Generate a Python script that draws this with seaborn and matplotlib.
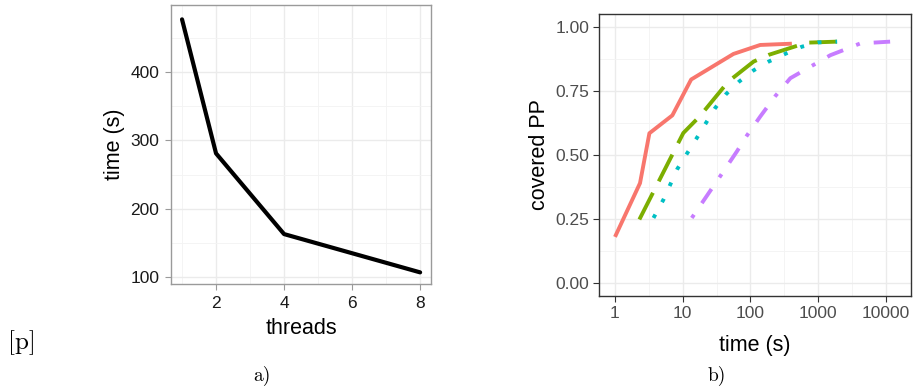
import numpy as np
import pandas as pd
import matplotlib
matplotlib.use("Agg")
import matplotlib.pyplot as plt
import seaborn as sns
from matplotlib.ticker import FixedLocator, NullFormatter

sns.set_theme(style="white")
plt.rcParams['font.family'] = ['Liberation Sans', 'DejaVu Sans']

# ---- data: panel a ----
threads = [1, 2, 4, 8]
time_s = [477, 281, 163, 107]

# ---- data: panel b ----
red_t = [1, 2.34, 3.22, 7.03, 13.3, 56.1, 139, 408]
red_v = [0.18, 0.39, 0.585, 0.655, 0.795, 0.895, 0.93, 0.935]
green_t = [2.29, 10.2, 17.8, 47, 111, 184, 680, 1890]
green_v = [0.248, 0.586, 0.651, 0.787, 0.865, 0.891, 0.939, 0.943]
teal_t = [3.7, 5.2, 8.3, 11.5, 16, 22, 30, 43.6, 68, 110, 185, 324, 570, 1000, 1900]
teal_v = [0.254, 0.326, 0.445, 0.505, 0.565, 0.625, 0.683, 0.738, 0.787, 0.83,
          0.865, 0.895, 0.923, 0.94, 0.943]
purple_t = [13.6, 35.7, 63, 88, 139, 232, 387, 850, 1510, 2360, 4170, 11500]
purple_v = [0.254, 0.417, 0.514, 0.575, 0.65, 0.73, 0.80, 0.852, 0.89, 0.91, 0.936, 0.943]
series_names = ["s1", "s2", "s3", "s4"]

fig = plt.figure(figsize=(9.14, 3.86), dpi=100)

tick_fs = 12.5
title_fs = 15.5

# ---------- panel a ----------
axa = fig.add_axes([171/914, 1-284/386, 260/914, 279/386])
dfa = pd.DataFrame({"threads": threads, "time": time_s})
sns.lineplot(data=dfa, x="threads", y="time", ax=axa, color="black", lw=3.0,
             estimator=None, sort=False)
axa.set_xlim(0.676, 8.32)
axa.set_ylim(90, 498)
axa.xaxis.set_major_locator(FixedLocator([2, 4, 6, 8]))
axa.xaxis.set_minor_locator(FixedLocator([1, 3, 5, 7]))
axa.yaxis.set_major_locator(FixedLocator([100, 200, 300, 400]))
axa.yaxis.set_minor_locator(FixedLocator([150, 250, 350, 450]))
axa.grid(which="major", color="#EBEBEB", lw=1.0)
axa.grid(which="minor", color="#F3F3F3", lw=0.6)
axa.set_axisbelow(True)
for sp in axa.spines.values():
    sp.set_color("#9A9A9A")
    sp.set_linewidth(1.0)
axa.tick_params(which="major", length=4, width=0.8, color="#9A9A9A",
                labelsize=tick_fs, labelcolor="#1A1A1A", pad=4.5, left=True, bottom=True)
axa.tick_params(axis="x", which="major", pad=5)
axa.tick_params(which="minor", length=0)
axa.set_xlabel("threads", fontsize=title_fs, color="black", labelpad=5)
axa.set_ylabel("time (s)", fontsize=title_fs, color="black", labelpad=4)

# ---------- panel b ----------
axb = fig.add_axes([599/914, 1-296/386, 312/914, 282/386])
rows = []
for name, ts, vs in zip(series_names, [red_t, green_t, teal_t, purple_t],
                        [red_v, green_v, teal_v, purple_v]):
    for t, v in zip(ts, vs):
        rows.append({"time": t, "PP": v, "series": name})
dfb = pd.DataFrame(rows)
palette = {"s1": "#F8766D", "s2": "#7CAE00", "s3": "#00BFC4", "s4": "#C77CFF"}
dashes = {"s1": "", "s2": (7.7, 3.3), "s3": (1.0, 3.6), "s4": (1.0, 3.6, 4.4, 3.6)}
sns.lineplot(data=dfb, x="time", y="PP", hue="series", style="series",
             palette=palette, dashes=dashes, ax=axb, lw=2.8,
             estimator=None, sort=False, legend=False)
for ln in axb.get_lines():
    ln.set_dash_capstyle("butt")
    ln.set_solid_capstyle("butt")
axb.set_xscale("log")
axb.set_xlim(10**-0.236, 10**4.369)
axb.set_ylim(-0.051, 1.051)
axb.xaxis.set_major_locator(FixedLocator([1, 10, 100, 1000, 10000]))
axb.set_xticklabels(["1", "10", "100", "1000", "10000"])
axb.xaxis.set_minor_locator(FixedLocator([10**0.5, 10**1.5, 10**2.5, 10**3.5]))
axb.xaxis.set_minor_formatter(NullFormatter())
axb.yaxis.set_major_locator(FixedLocator([0, 0.25, 0.5, 0.75, 1.0]))
axb.set_yticklabels(["0.00", "0.25", "0.50", "0.75", "1.00"])
axb.yaxis.set_minor_locator(FixedLocator([0.125, 0.375, 0.625, 0.875]))
axb.grid(which="major", color="#EBEBEB", lw=1.0)
axb.grid(which="minor", color="#F3F3F3", lw=0.6)
axb.set_axisbelow(True)
for sp in axb.spines.values():
    sp.set_color("#333333")
    sp.set_linewidth(1.0)
axb.tick_params(which="major", length=4, width=0.8, color="#333333",
                labelsize=tick_fs, labelcolor="#4D4D4D", pad=3, left=True, bottom=True)
axb.tick_params(which="minor", length=0)
axb.set_xlabel("time (s)", fontsize=title_fs, color="black", labelpad=10)
axb.set_ylabel("covered PP", fontsize=title_fs, color="black", labelpad=4)

# ---------- captions ----------
serif = ["cmr10", "DejaVu Serif"]
fig.text(22/914, 1-343/386, "[p]", family=serif, fontsize=18, color="black",
         ha="center", va="center")
fig.text(262/914, 1-376/386, "a)", family=serif, fontsize=14, color="black",
         ha="center", va="center")
fig.text(717/914, 1-376/386, "b)", family=serif, fontsize=14, color="black",
         ha="center", va="center")

fig.savefig("out.png", dpi=100)
